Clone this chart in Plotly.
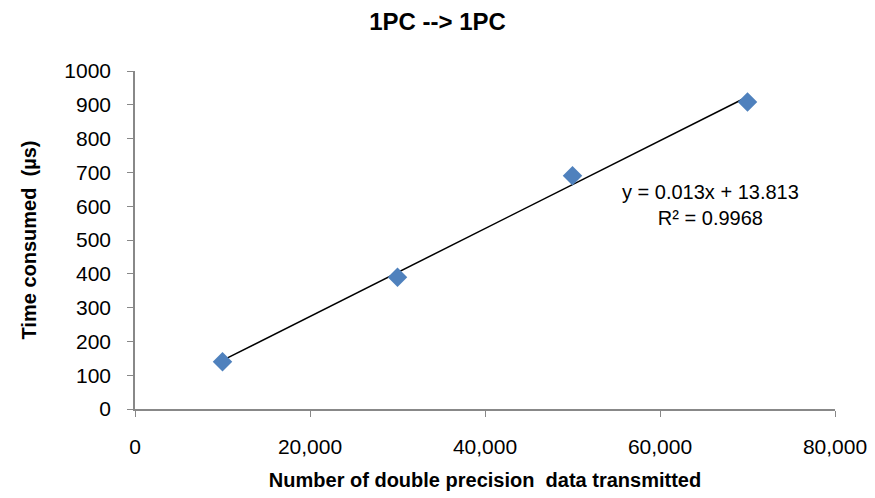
import plotly.graph_objects as go

data_sizes = [10000, 30000, 50000, 70000]
time_us = [140, 390, 690, 908]
slope = 0.013
intercept = 13.813
r_squared = 0.9968
x_ticks = [0, 20000, 40000, 60000, 80000]
x_tick_labels = ["0", "20,000", "40,000", "60,000", "80,000"]
y_ticks = list(range(0, 1001, 100))

FONT = "Liberation Sans, Arial"

trend_x = [min(data_sizes), max(data_sizes)]
trend_y = [slope * v + intercept for v in trend_x]

fig = go.Figure()
fig.add_trace(go.Scatter(x=trend_x, y=trend_y, mode="lines",
                         line=dict(color="black", width=1.5), showlegend=False,
                         hoverinfo="skip"))
fig.add_trace(go.Scatter(x=data_sizes, y=time_us, mode="markers",
                         marker=dict(symbol="diamond", size=15, color="#4F81BD",
                                     line=dict(width=0)),
                         showlegend=False))

fig.add_annotation(x=65800, y=603, xref="x", yref="y",
                   text=f"y = {slope}x + {intercept}<br>R² = {r_squared}",
                   showarrow=False, align="center",
                   font=dict(family=FONT, size=20, color="black"))

fig.update_layout(
    width=875, height=498,
    margin=dict(l=135, r=40, t=71, b=89),
    paper_bgcolor="white", plot_bgcolor="white",
    title=dict(text="<b>1PC --> 1PC</b>", x=0.5, xanchor="center",
               y=0.956, yanchor="middle",
               font=dict(family=FONT, size=24, color="black")),
    font=dict(family=FONT, color="black"),
)
fig.update_xaxes(range=[0, 80000], tickvals=x_ticks, ticktext=x_tick_labels,
                 automargin=False,
                 showgrid=False, zeroline=False, showline=True,
                 linecolor="#888888", linewidth=1.5,
                 ticks="outside", ticklen=6, tickcolor="#888888",
                 ticklabelstandoff=12,
                 tickfont=dict(family=FONT, size=21, color="black"),
                 title=dict(text="<b>Number of double precision  data transmitted</b>",
                            font=dict(family=FONT, size=20, color="black"),
                            standoff=16))
fig.update_yaxes(range=[0, 1000], tickvals=y_ticks,
                 automargin=False,
                 showgrid=False, zeroline=False, showline=True,
                 linecolor="#888888", linewidth=1.5,
                 ticks="outside", ticklen=6, tickcolor="#888888",
                 ticklabelstandoff=12,
                 tickfont=dict(family=FONT, size=21, color="black"),
                 title=dict(text="<b>Time consumed  (µs)</b>",
                            font=dict(family=FONT, size=20, color="black"),
                            standoff=22))

fig.write_html("out.html")
